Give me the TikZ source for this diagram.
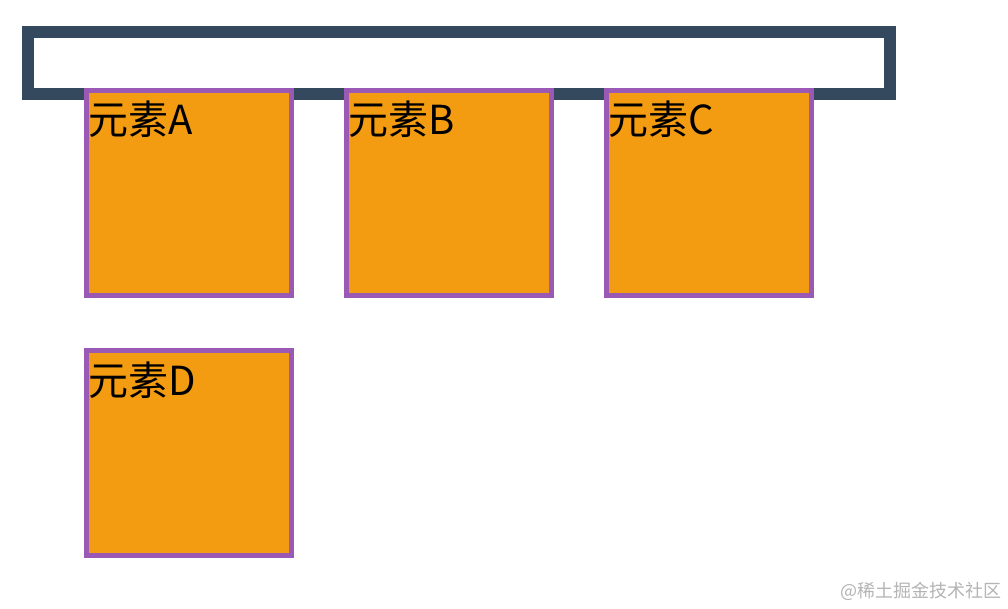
\documentclass[tikz,border=0pt]{standalone}
\usepackage{fontspec}
\setmainfont{Noto Sans CJK SC}
\newfontfamily\cjkfont{Noto Sans CJK SC}
\definecolor{darkblue}{HTML}{34495E}
\definecolor{boxpurple}{HTML}{9B59B6}
\definecolor{boxorange}{HTML}{F39C12}
\definecolor{wmgray}{HTML}{B4B4B4}
\tikzset{
  container/.style={draw=darkblue, line width=12bp, fill=white},
  elembox/.style={draw=boxpurple, fill=boxorange, line width=5bp, rectangle, inner sep=0pt, minimum width=205bp, minimum height=205bp},
  elemlabel/.style={inner sep=0pt, anchor=base west, font=\cjkfont\fontsize{40bp}{46bp}\selectfont, text=black},
  watermark/.style={inner sep=0pt, anchor=base east, font=\cjkfont\fontsize{18bp}{20bp}\selectfont, text=wmgray}
}
\begin{document}
\begin{tikzpicture}[x=1bp,y=-1bp]
\useasboundingbox (0,0) rectangle (1008,609);
\fill[white] (0,0) rectangle (1008,609);
% container
\draw[container] (28,32) rectangle (890,94);
\node[inner sep=0pt] (cont) at (459,63) {};
% boxes
\node[elembox] (A) at (189,193) {};
\node[elembox] (B) at (449,193) {};
\node[elembox] (C) at (709,193) {};
\node[elembox] (D) at (189,453) {};
\node[elemlabel] (At) at (88,135) {元素A};
\node[elemlabel] (Bt) at (348,135) {元素B};
\node[elemlabel] (Ct) at (608,135) {元素C};
\node[elemlabel] (Dt) at (88,395) {元素D};
\node[watermark] (wm) at (1002,597) {@稀土掘金技术社区};
\end{tikzpicture}
\end{document}
